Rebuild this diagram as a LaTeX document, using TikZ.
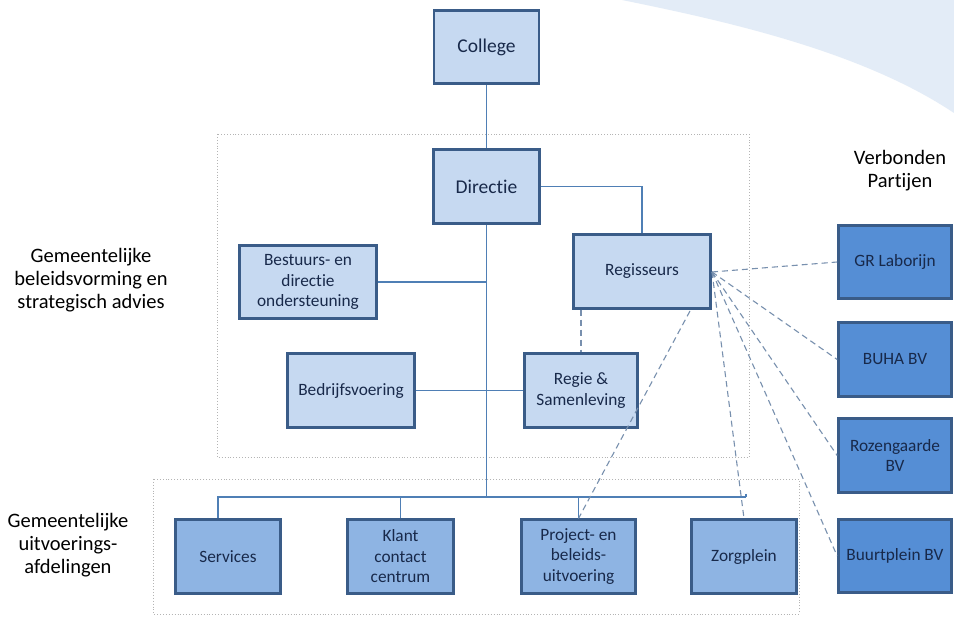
\documentclass[tikz,border=0pt]{standalone}
\usepackage{fontspec}
\setmainfont{Carlito}[Ligatures=NoCommon]
\definecolor{arcfill}{HTML}{E3ECF7}
\definecolor{bordercol}{HTML}{3A5C88}
\definecolor{lightfill}{HTML}{C6D9F1}
\definecolor{midfill}{HTML}{8EB4E3}
\definecolor{darkfill}{HTML}{558ED5}
\definecolor{txtcol}{HTML}{18294A}
\definecolor{solidcol}{HTML}{4F7FB5}
\definecolor{dashcol}{HTML}{7890AE}
\definecolor{dotcol}{HTML}{B4B4B4}
\begin{document}
\begin{tikzpicture}[x=1pt,y=-1pt,
  box/.style={draw=bordercol, line width=2.6pt, rectangle, inner sep=0pt,
    align=center, text=txtcol, minimum height=73.5pt,
    font=\fontsize{17.3}{20.5}\selectfont},
  lbox/.style={box, fill=lightfill},
  mbox/.style={box, fill=midfill},
  dbox/.style={box, fill=darkfill},
  bigtxt/.style={font=\fontsize{19.5}{23}\selectfont},
  conn/.style={draw=solidcol, line width=1.1pt},
  dconn/.style={draw=dashcol, line width=1.1pt, dash pattern=on 6pt off 4pt},
  dotbox/.style={draw=dotcol, line width=0.9pt, dotted},
  label/.style={align=center, text=black, font=\fontsize{20.5}{23}\selectfont}
]
\useasboundingbox (0,0) rectangle (954,617);
\fill[white] (0,0) rectangle (954,617);
% background arc
\fill[arcfill] (622,0) .. controls (720,20) and (860,50) .. (954,113) -- (954,0) -- cycle;

% dotted group frames
\draw[dotbox] (217,134) rectangle (749,457);
\draw[dotbox] (153,479) rectangle (799,614);

% nodes
\node[lbox, minimum width=105pt, bigtxt] (college) at (486.5,47) {College};
\node[lbox, minimum width=106pt, bigtxt] (directie) at (486.5,186.5) {Directie};
\node[lbox, minimum width=137pt] (regisseurs) at (642,271.5) {Regisseurs};
\node[lbox, minimum width=137pt] (bestuurs) at (308,282) {Bestuurs- en\\directie\\ondersteuning};
\node[lbox, minimum width=127pt] (bedrijf) at (351,390.5) {Bedrijfsvoering};
\node[lbox, minimum width=113pt] (regie) at (581,390.5) {Regie \&\\Samenleving};

\node[mbox, minimum width=105pt] (services) at (228,556.5) {Services};
\node[mbox, minimum width=106pt] (klant) at (400.5,556.5) {Klant\\contact\\centrum};
\node[mbox, minimum width=114pt] (project) at (578.5,556.5) {Project- en\\beleids-\\uitvoering};
\node[mbox, minimum width=105pt] (zorg) at (744,556.5) {Zorgplein};

\node[dbox, minimum width=113pt] (gr) at (895,262) {GR Laborijn};
\node[dbox, minimum width=113pt] (buha) at (895,359.5) {BUHA BV};
\node[dbox, minimum width=113pt] (roz) at (895,455.5) {Rozengaarde\\BV};
\node[dbox, minimum width=113pt] (buurt) at (895,556) {Buurtplein BV};

% labels
\node[label] (lab1) at (91,280) {Gemeentelijke\\beleidsvorming en\\strategisch advies};
\node[label] (lab2) at (68,545) {Gemeentelijke\\uitvoerings-\\afdelingen};
\node[label] (lab3) at (900,171) {Verbonden\\Partijen};

% coordinates
\coordinate (bus) at (486.5,497);
\coordinate (regpt) at (712,272);
\coordinate (regbot) at (690,311);

% solid connectors
\draw[conn] (college.south) -- (directie.north);
\draw[conn] (directie.south) -- (bus);
\draw[conn] (directie.east) -| (regisseurs.north);
\draw[conn] (bestuurs.east) -- (bestuurs.east -| directie.south);
\draw[conn] (bedrijf.east) -- (regie.west);
\draw[conn] ([xshift=-10pt]services.north) |- ([xshift=2pt]zorg.north |- bus);
\draw[conn] ([xshift=2pt]zorg.north |- 0,494) -- ([xshift=2pt]zorg.north |- bus);
\draw[conn] (klant.north) -- (klant.north |- bus);
\draw[conn] (project.north) -- (project.north |- bus);

% dashed connectors
\draw[dconn] (regisseurs.south -| regie.north) -- (regie.north);
\draw[dconn] (regbot) -- (project.north);
\draw[dconn] (regpt) -- (gr.west);
\draw[dconn] (regpt) -- (buha.west);
\draw[dconn] (regpt) -- (roz.west);
\draw[dconn] (regpt) -- (buurt.west);
\draw[dconn] (regpt) -- (zorg.north);
\end{tikzpicture}
\end{document}
